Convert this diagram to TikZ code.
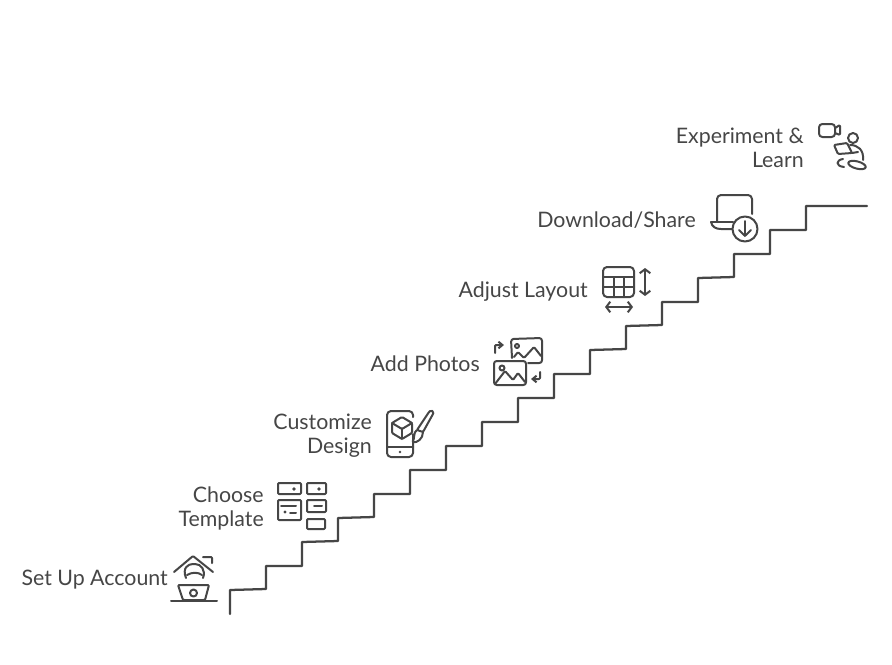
\documentclass[tikz,border=0pt]{standalone}
\usepackage{fontspec}
\usetikzlibrary{arrows.meta}
\setmainfont{Lato}
\definecolor{ink}{HTML}{464646}
\tikzset{
  px/.style={x=0.75pt,y=-0.75pt},
  lbl/.style={font=\fontsize{16}{18}\selectfont,text=ink,align=right,anchor=east,inner sep=0pt},
  stair/.style={draw=ink,line width=1.7pt,line join=round,line cap=round},
  ico/.style={draw=ink,line width=1.5pt,line join=round,line cap=round,rounded corners=0.8pt},
  dotm/.style={fill=ink,draw=none}
}
\begin{document}
\begin{tikzpicture}[px]
\useasboundingbox (0,0) rectangle (892,664);
\fill[white] (0,0) rectangle (892,664);
% stairs
\coordinate (stairstart) at (230,614);
\coordinate (stairend) at (867,206);
\draw[stair] (stairstart) -- (230,590) -- (266,589) -- (266,566) -- (302,566) -- (302,542) -- (338,541) -- (338,518) -- (374,517) -- (374,494) -- (410,494) -- (410,470) -- (446,470) -- (446,446) -- (482,446) -- (482,422) -- (518,422) -- (518,398) -- (554,398) -- (554,374) -- (590,374) -- (590,350) -- (626,349) -- (626,326) -- (662,325) -- (662,302) -- (698,302) -- (698,278) -- (734,277) -- (734,254) -- (770,254) -- (770,230) -- (806,230) -- (806,206) -- (stairend);
% labels
\node[lbl] (l1) at (168,580) {Set Up Account};
\node[lbl] (l2) at (264,508) {Choose\\Template};
\node[lbl] (l3) at (372,436) {Customize\\Design};
\node[lbl] (l4) at (480,364) {Add Photos};
\node[lbl] (l5) at (588,292) {Adjust Layout};
\node[lbl] (l6) at (696,220) {Download/Share};
\node[lbl] (l7) at (804,148) {Experiment \&\\Learn};
% icon 1: house and laptop
\draw[ico] (174,572) -- (193,556) -- (213,572);
\draw[ico] (203,557) -- (212,557) -- (212,563);
\draw[ico] (186,578) .. controls (182,568) and (188,564) .. (194,564) .. controls (201,564) and (206,570) .. (203,578);
\draw[ico] (187,575) .. controls (192,572) and (198,572) .. (202,575);
\draw[ico] (178,585) -- (209,585) -- (205,600) -- (183,600) -- cycle;
\draw[ico] (171,601) -- (217,601);
\draw[ico] (193.5,593) circle (3.5);
% icon 2: template
\draw[ico] (278,483) rectangle (301,494);
\fill[dotm] (294,489) circle (1.8);
\draw[ico] (307,483) rectangle (326,494);
\fill[dotm] (319,489) circle (1.8);
\draw[ico] (278,500) rectangle (301,520);
\draw[ico] (281,506) -- (296,506);
\fill[dotm] (285,512) circle (1.6);
\draw[ico] (290,513) -- (296,513);
\draw[ico] (307,500) rectangle (326,512);
\draw[ico] (314,506) -- (322,506);
\draw[ico] (307,519) rectangle (325,529);
% icon 3: phone, cube, brush
\draw[ico,rounded corners=3pt] (413,417) -- (413,411) -- (387,411) -- (387,457) -- (413,457) -- (413,434);
\draw[ico] (387,447) -- (413,447);
\fill[dotm] (400,452) circle (1.4);
\draw[ico] (402,417) -- (412,423) -- (412,433) -- (402,439) -- (392,433) -- (392,423) -- cycle;
\draw[ico] (392,423) -- (402,429) -- (412,423);
\draw[ico] (402,429) -- (402,439);
\draw[ico] (429,412) .. controls (431,410) and (434,411) .. (433,414) -- (423,432) -- (417,430) -- cycle;
\draw[ico] (417,430) .. controls (413,432) and (415,439) .. (412,442) .. controls (417,443) and (423,439) .. (423,432);
% icon 4: photos
\draw[ico,rounded corners=2pt] (512,358) -- (511,339) -- (542,338) -- (542,363) -- (528,363);
\draw[ico] (514,357) -- (518,352) -- (524,358) -- (534,347) -- (541,356);
\draw[ico] (517,346) circle (2);
\draw[ico,rounded corners=2pt] (494,361) rectangle (526,385);
\draw[ico] (495,384) -- (505,371) -- (513,380) -- (518,373) -- (525,382);
\draw[ico] (502,368) circle (2.5);
\draw[ico,-{Straight Barb[length=3pt,width=5pt]}] (495,353) -- (495,345) -- (504,345);
\draw[ico,-{Straight Barb[length=3pt,width=5pt]}] (540,372) -- (540,379) -- (531,379);
% icon 5: table
\draw[ico,rounded corners=3pt] (603,267) rectangle (634,297);
\draw[ico] (603,277) -- (634,277);
\draw[ico] (603,287) -- (634,287);
\draw[ico] (614,277) -- (614,297);
\draw[ico] (624,277) -- (624,297);
\draw[ico,{Straight Barb[length=3pt,width=8pt]}-{Straight Barb[length=3pt,width=8pt]}] (645,268) -- (645,296);
\draw[ico,{Straight Barb[length=3pt,width=8pt]}-{Straight Barb[length=3pt,width=8pt]}] (605,307) -- (633,307);
% icon 6: laptop download
\draw[ico,rounded corners=3pt] (717,222) -- (717,195) -- (752,195) -- (752,214);
\draw[ico] (711,222) -- (733,222);
\draw[ico] (711,222) .. controls (712,227) and (716,229) .. (722,229) -- (732,229);
\draw[ico] (745,229) circle (12.5);
\draw[ico] (745,221) -- (745,236);
\draw[ico] (739,230) -- (745,236) -- (751,230);
% icon 7: video and learner
\draw[ico,rounded corners=2.5pt] (819,124) rectangle (835,137);
\draw[ico] (835,128) -- (840,125) -- (840,135) -- (835,133);
\draw[ico] (853,138) circle (5);
\draw[ico] (834,145) -- (847,143) -- (852,153) -- (838,154) -- cycle;
\draw[ico] (852,153) -- (858,152);
\draw[ico] (850,145) .. controls (858,145) and (864,150) .. (863,160);
\draw[ico,rotate around={-15:(857,165)}] (857,165) ellipse (9 and 3.6);
\draw[ico] (843,159) .. controls (836,160) and (835,166) .. (844,167);
\end{tikzpicture}
\end{document}
